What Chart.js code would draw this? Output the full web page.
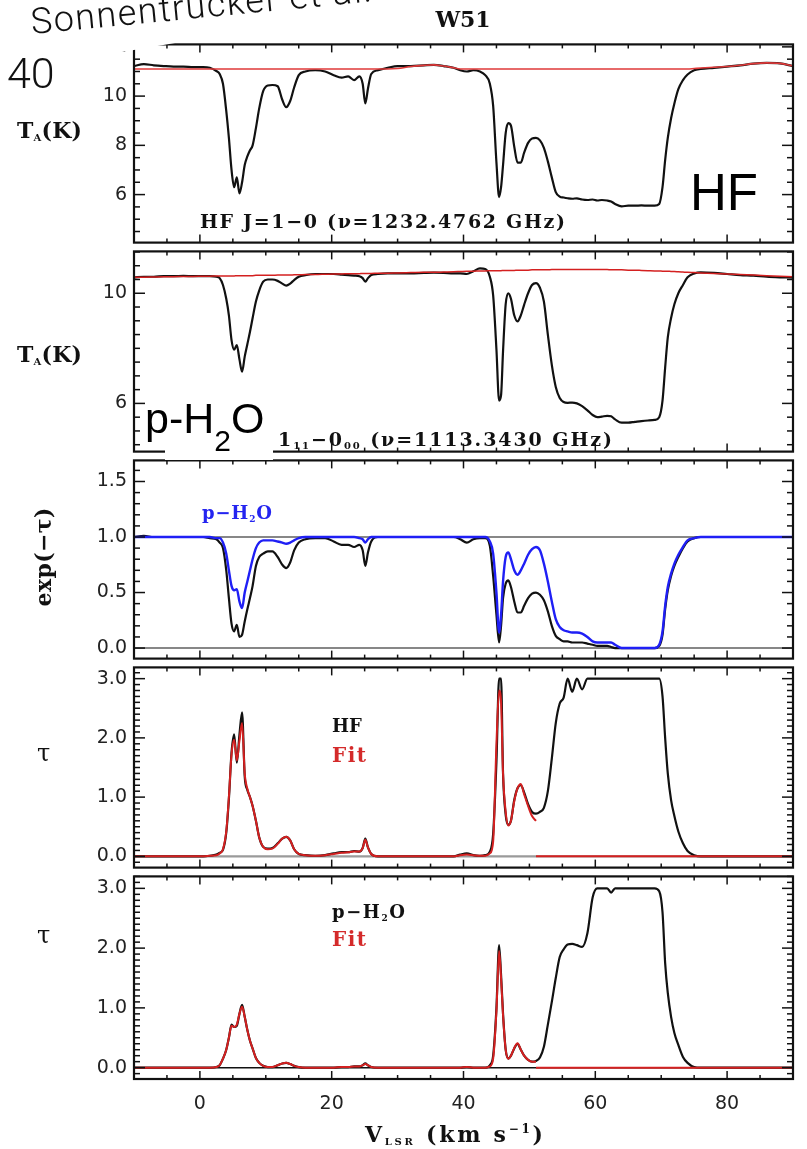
<!DOCTYPE html>
<html>
<head>
<meta charset="utf-8">
<script src="https://cdn.jsdelivr.net/npm/chart.js@4.4.1/dist/chart.umd.min.js"></script>
<style>
  html, body { margin: 0; padding: 0; background: #fff; }
  #page { position: relative; width: 807px; height: 1149px; overflow: hidden; background: #fff; }
  canvas { position: absolute; left: 0; }
  svg { position: absolute; left: 0; top: 0; }
  .lab { font-family: 'DejaVu Serif', serif; font-weight: bold; fill: #111; }
</style>
</head>
<body>
<div id="page">
  <canvas id="p1"></canvas>
  <canvas id="p2"></canvas>
  <canvas id="p3"></canvas>
  <canvas id="p4"></canvas>
  <canvas id="p5"></canvas>

  <svg width="807" height="1149" viewBox="0 0 807 1149">
    <!-- pasted note in the corner -->
    <polygon points="-10,74.5 300,21.8 300,-10 -10,-10" fill="#fff"/>
    <text x="32" y="34" transform="rotate(-5.5 32 34)" font-family="Roboto, 'Liberation Sans', sans-serif" font-weight="300" font-size="36" letter-spacing="1.5" fill="#111">Sonnentrucker et al.</text>
    <text x="7" y="88" font-family="Roboto, 'Liberation Sans', sans-serif" font-weight="300" font-size="43" fill="#111">40</text>

    <text class="lab" x="463" y="27" text-anchor="middle" font-size="22" textLength="55">W51</text>

    <!-- panel 1 -->
    <text class="lab" x="17" y="138" font-size="22" textLength="65">T<tspan font-size="10" dy="3">A</tspan><tspan dy="-3">(K)</tspan></text>
    <text class="lab" x="200" y="228" font-size="19" textLength="365">HF J=1−0 (ν=1232.4762 GHz)</text>
    <text x="690" y="210" font-family="'Liberation Sans', sans-serif" font-size="51" fill="#000">HF</text>

    <!-- panel 2 -->
    <text class="lab" x="17" y="362" font-size="22" textLength="65">T<tspan font-size="10" dy="3">A</tspan><tspan dy="-3">(K)</tspan></text>
    <text class="lab" x="278" y="446" font-size="19" textLength="334">1<tspan font-size="10" dy="3">11</tspan><tspan dy="-3">−0</tspan><tspan font-size="10" dy="3">00</tspan><tspan dy="-3">  (ν=1113.3430 GHz)</tspan></text>
    <rect x="165" y="399" width="108" height="61" fill="#fff"/>
    <text x="145" y="433" font-family="'Liberation Sans', sans-serif" font-size="43" fill="#000">p-H<tspan font-size="30" dy="18">2</tspan><tspan dy="-18">O</tspan></text>

    <!-- panel 3 -->
    <text class="lab" x="51" y="557" transform="rotate(-90 51 557)" text-anchor="middle" font-size="22" textLength="99">exp(−τ)</text>
    <text class="lab" x="202" y="519" font-size="18" textLength="70" style="fill:#2424f0">p−H<tspan font-size="9" dy="3">2</tspan><tspan dy="-3">O</tspan></text>

    <!-- panel 4 -->
    <text x="37" y="761" font-family="'DejaVu Serif', serif" font-size="24" fill="#111">τ</text>
    <text class="lab" x="332" y="732" font-size="18">HF</text>
    <text class="lab" x="332" y="762" font-size="20" textLength="34" style="fill:#d42a2a">Fit</text>

    <!-- panel 5 -->
    <text x="37" y="943" font-family="'DejaVu Serif', serif" font-size="24" fill="#111">τ</text>
    <text class="lab" x="332" y="918" font-size="18" textLength="73">p−H<tspan font-size="9" dy="3">2</tspan><tspan dy="-3">O</tspan></text>
    <text class="lab" x="332" y="946" font-size="20" textLength="34" style="fill:#d42a2a">Fit</text>

    <text class="lab" x="365" y="1142" font-size="22" textLength="178">V<tspan font-size="10" dy="3">LSR</tspan><tspan dy="-3"> (km s</tspan><tspan font-size="12" dy="-9">−1</tspan><tspan dy="9">)</tspan></text>
  </svg>
</div>

<script>
// LSR velocity grid (km/s), shared by every spectrum below
const vel = [
  -10, -8.5, -7, -5.5, -4, -2.5, -1, 0.5, 1.5, 2.5,
  3, 3.5, 4, 4.4, 4.8, 5.2, 5.6, 6, 6.4, 6.8,
  7.2, 7.6, 8, 8.5, 9, 9.6, 10.3, 11, 11.8, 12.5,
  13.1, 13.7, 14.3, 15, 16, 17.5, 19, 20.3, 21.5, 22.5,
  23.4, 24.2, 24.7, 25.1, 25.5, 26, 27, 28.5, 30, 32,
  34, 35.5, 37, 38.5, 39.5, 40.5, 41.5, 42.5, 43.3, 44,
  44.5, 45, 45.4, 45.7, 46, 46.4, 46.8, 47.2, 47.7, 48.2,
  48.7, 49.2, 49.8, 50.4, 51, 51.6, 52.2, 52.8, 53.4, 54,
  54.6, 55.2, 55.8, 56.5, 57.2, 58, 58.8, 59.6, 60.3, 61,
  61.8, 62.4, 63, 64, 65, 66, 67, 68, 69, 69.7,
  70.2, 70.6, 71, 71.5, 72, 72.6, 73.3, 74, 75, 76,
  78, 80, 82, 84, 86, 88, 90
];

// HF J=1-0 antenna temperature (K) and continuum baseline
const hfTa = [
  11.22, 11.3, 11.25, 11.22, 11.2, 11.2, 11.18, 11.18, 11.15, 11.02,
  10.9, 10.5, 9.4, 8.3, 7.0, 6.3, 6.7, 6.05, 6.5, 7.2,
  7.55, 7.8, 8.0, 8.7, 9.5, 10.2, 10.43, 10.45, 10.4, 9.85,
  9.55, 9.8, 10.35, 10.85, 11.0, 11.05, 11.0, 10.85, 10.75, 10.8,
  10.65, 10.8, 10.5, 9.7, 10.3, 10.9, 11.05, 11.15, 11.22, 11.22,
  11.25, 11.27, 11.22, 11.15, 11.05, 11.0, 11.05, 11.0, 10.85, 10.5,
  9.6, 7.3, 5.9, 6.3, 7.2, 8.5, 8.9, 8.8, 7.95, 7.3,
  7.3, 7.7, 8.1, 8.28, 8.3, 8.2, 7.9, 7.35, 6.7, 6.1,
  5.92, 5.88, 5.85, 5.83, 5.85, 5.8, 5.78, 5.8, 5.76, 5.78,
  5.76, 5.72, 5.62, 5.52, 5.55, 5.55, 5.56, 5.55, 5.55, 5.62,
  6.3, 7.4, 8.3, 9.1, 9.7, 10.28, 10.65, 10.88, 11.05, 11.1,
  11.15, 11.2, 11.25, 11.32, 11.35, 11.33, 11.22
];
const hfTaCont = [
  11.1, 11.1, 11.1, 11.1, 11.1, 11.1, 11.1, 11.1, 11.1, 11.1,
  11.1, 11.1, 11.1, 11.1, 11.1, 11.1, 11.1, 11.1, 11.1, 11.1,
  11.1, 11.1, 11.1, 11.1, 11.1, 11.1, 11.1, 11.1, 11.1, 11.1,
  11.1, 11.1, 11.1, 11.1, 11.1, 11.1, 11.1, 11.1, 11.1, 11.1,
  11.1, 11.1, 11.1, 11.1, 11.1, 11.1, 11.1, 11.1, 11.12, 11.2,
  11.25, 11.27, 11.22, 11.15, 11.1, 11.1, 11.1, 11.1, 11.1, 11.1,
  11.1, 11.1, 11.1, 11.1, 11.1, 11.1, 11.1, 11.1, 11.1, 11.1,
  11.1, 11.1, 11.1, 11.1, 11.1, 11.1, 11.1, 11.1, 11.1, 11.1,
  11.1, 11.1, 11.1, 11.1, 11.1, 11.1, 11.1, 11.1, 11.1, 11.1,
  11.1, 11.1, 11.1, 11.1, 11.1, 11.1, 11.1, 11.1, 11.1, 11.1,
  11.1, 11.1, 11.1, 11.1, 11.1, 11.1, 11.1, 11.1, 11.12, 11.14,
  11.17, 11.2, 11.25, 11.32, 11.35, 11.33, 11.22
];

// p-H2O 1_11-0_00 antenna temperature (K) and continuum baseline
const h2oTa = [
  10.58, 10.6, 10.6, 10.62, 10.62, 10.63, 10.62, 10.62, 10.62, 10.6,
  10.55, 10.3, 9.8, 9.2, 8.3, 7.95, 8.12, 7.6, 7.15, 7.7,
  8.15, 8.6, 9.1, 9.7, 10.1, 10.42, 10.5, 10.5, 10.45, 10.35,
  10.28, 10.35, 10.48, 10.6, 10.66, 10.7, 10.7, 10.7, 10.68, 10.66,
  10.64, 10.62, 10.55, 10.42, 10.55, 10.66, 10.7, 10.72, 10.72, 10.72,
  10.74, 10.75, 10.74, 10.72, 10.72, 10.7, 10.8, 10.9, 10.88, 10.6,
  9.92, 7.95, 6.1, 6.3, 7.9, 9.6, 10.0, 9.8, 9.2, 8.98,
  9.2, 9.58, 10.0, 10.3, 10.37, 10.2, 9.7, 8.5, 7.4, 6.6,
  6.2, 6.05, 6.02, 6.03, 6.0, 5.9, 5.75, 5.58, 5.5, 5.52,
  5.55, 5.53, 5.42, 5.3, 5.3, 5.33, 5.36, 5.38, 5.4, 5.5,
  6.1, 7.3, 8.4, 9.1, 9.6, 10.0, 10.3, 10.58, 10.72, 10.76,
  10.74, 10.7, 10.66, 10.64, 10.6, 10.58, 10.57
];
const h2oTaCont = [
  10.58, 10.58, 10.59, 10.6, 10.6, 10.61, 10.61, 10.62, 10.62, 10.63,
  10.63, 10.63, 10.63, 10.63, 10.63, 10.63, 10.64, 10.64, 10.64, 10.64,
  10.64, 10.64, 10.64, 10.65, 10.65, 10.65, 10.65, 10.65, 10.66, 10.66,
  10.66, 10.66, 10.67, 10.67, 10.68, 10.68, 10.69, 10.7, 10.7, 10.71,
  10.71, 10.71, 10.72, 10.72, 10.72, 10.72, 10.73, 10.73, 10.74, 10.75,
  10.76, 10.76, 10.77, 10.78, 10.79, 10.8, 10.8, 10.81, 10.81, 10.82,
  10.82, 10.82, 10.82, 10.82, 10.83, 10.83, 10.83, 10.83, 10.83, 10.84,
  10.84, 10.84, 10.84, 10.85, 10.85, 10.85, 10.85, 10.85, 10.86, 10.86,
  10.86, 10.86, 10.86, 10.86, 10.86, 10.86, 10.86, 10.86, 10.86, 10.86,
  10.86, 10.85, 10.85, 10.85, 10.84, 10.84, 10.83, 10.82, 10.81, 10.81,
  10.8, 10.8, 10.8, 10.79, 10.79, 10.78, 10.77, 10.76, 10.75, 10.74,
  10.72, 10.7, 10.68, 10.66, 10.64, 10.62, 10.6
];

// normalised spectra exp(-tau)
const expTauHF = [
  1.0, 1.01, 1.0, 1.0, 1.0, 1.0, 1.0, 1.0, 0.99, 0.98,
  0.95, 0.9, 0.7, 0.45, 0.22, 0.15, 0.21, 0.1, 0.12, 0.24,
  0.35, 0.45, 0.56, 0.74, 0.82, 0.85, 0.87, 0.87, 0.82, 0.75,
  0.72, 0.77, 0.88, 0.95, 0.98, 0.99, 0.99, 0.96, 0.93, 0.93,
  0.91, 0.93, 0.88, 0.74, 0.86, 0.96, 1.0, 1.0, 1.0, 1.0,
  1.0, 1.0, 1.0, 1.0, 0.98, 0.95, 0.98, 0.99, 0.99, 0.92,
  0.65, 0.3, 0.05, 0.2, 0.45, 0.58, 0.61, 0.55, 0.42, 0.32,
  0.32, 0.38, 0.45, 0.49, 0.5, 0.48, 0.43, 0.33, 0.2, 0.11,
  0.08, 0.06, 0.06, 0.05, 0.05, 0.05, 0.04, 0.03, 0.02, 0.02,
  0.02, 0.01, 0, 0, 0, 0, 0, 0, 0, 0.02,
  0.12, 0.35, 0.52, 0.65, 0.74, 0.82, 0.9, 0.96, 0.99, 1.0,
  1.0, 1.0, 1.0, 1.0, 1.0, 1.0, 1.0
];
const expTauH2O = [
  1.0, 1.0, 1.0, 1.0, 1.0, 1.0, 1.0, 1.0, 1.0, 0.99,
  0.99, 0.95, 0.85, 0.7, 0.56, 0.52, 0.53, 0.42, 0.36, 0.5,
  0.6, 0.7, 0.8, 0.9, 0.95, 0.97, 0.97, 0.97, 0.96, 0.95,
  0.94, 0.95, 0.97, 0.99, 1.0, 1.0, 1.0, 1.0, 1.0, 1.0,
  1.0, 0.99, 0.98, 0.95, 0.98, 1.0, 1.0, 1.0, 1.0, 1.0,
  1.0, 1.0, 1.0, 1.0, 1.0, 1.0, 1.0, 1.0, 1.0, 0.96,
  0.85, 0.5, 0.14, 0.3, 0.6, 0.82, 0.86, 0.8, 0.7, 0.66,
  0.7, 0.76, 0.84, 0.89, 0.91, 0.88, 0.76, 0.6, 0.42, 0.26,
  0.19, 0.16, 0.15, 0.14, 0.14, 0.13, 0.1, 0.06, 0.05, 0.05,
  0.05, 0.05, 0.03, 0, 0, 0, 0, 0, 0, 0.03,
  0.15, 0.38, 0.55, 0.67, 0.76, 0.84, 0.91, 0.97, 0.99, 1.0,
  1.0, 1.0, 1.0, 1.0, 1.0, 1.0, 1.0
];

// optical depth; fits only cover the foreground range (first 45 channels)
const tauHF = [
  0, 0, 0, 0, 0, 0, 0, 0, 0.01, 0.03,
  0.06, 0.11, 0.4, 0.97, 1.75, 2.06, 1.58, 2.05, 2.43, 1.35,
  1.12, 1.0, 0.85, 0.6, 0.32, 0.16, 0.13, 0.14, 0.22, 0.3,
  0.33, 0.27, 0.12, 0.04, 0.02, 0.01, 0.02, 0.05, 0.07, 0.07,
  0.09, 0.08, 0.14, 0.3, 0.15, 0.04, 0, 0, 0, 0,
  0, 0, 0, 0, 0.03, 0.05, 0.02, 0.01, 0.02, 0.08,
  0.38, 1.6, 3.0, 3.0, 1.4, 0.7, 0.53, 0.6, 0.95, 1.15,
  1.2, 1.08, 0.88, 0.75, 0.72, 0.75, 0.82, 1.1, 1.65, 2.25,
  2.58, 2.68, 3.0, 2.78, 3.0, 2.82, 3.0, 3.0, 3.0, 3.0,
  3.0, 3.0, 3.0, 3.0, 3.0, 3.0, 3.0, 3.0, 3.0, 3.0,
  2.7, 2.0, 1.4, 0.95, 0.68, 0.42, 0.22, 0.09, 0.02, 0,
  0, 0, 0, 0, 0, 0, 0
];
const tauHFFit = [
  0, 0, 0, 0, 0, 0, 0, 0, 0.01, 0.02,
  0.05, 0.12, 0.42, 1.0, 1.72, 1.97, 1.62, 1.95, 2.25, 1.4,
  1.14, 1.0, 0.85, 0.6, 0.32, 0.16, 0.12, 0.13, 0.21, 0.3,
  0.33, 0.27, 0.12, 0.04, 0.02, 0.01, 0.02, 0.04, 0.06, 0.07,
  0.08, 0.08, 0.14, 0.28, 0.15, 0.04, 0, 0, 0, 0,
  0, 0, 0, 0, 0.02, 0.03, 0.02, 0.01, 0.01, 0.05,
  0.25, 1.9, 2.8, 2.6, 1.4, 0.75, 0.52, 0.6, 0.93, 1.15,
  1.22, 1.05, 0.85, 0.68, 0.6
];
const tauH2O = [
  0, 0, 0, 0, 0, 0, 0, 0, 0, 0.01,
  0.04, 0.15, 0.3, 0.5, 0.72, 0.68, 0.7, 0.9, 1.05, 0.85,
  0.63, 0.45, 0.32, 0.16, 0.08, 0.03, 0.01, 0.01, 0.04, 0.07,
  0.08, 0.06, 0.03, 0.01, 0, 0, 0, 0, 0.01, 0.01,
  0.02, 0.02, 0.04, 0.07, 0.04, 0.01, 0, 0, 0, 0,
  0, 0, 0, 0, 0, 0.01, 0, 0, 0, 0.04,
  0.2, 1.0, 2.05, 1.55, 0.9, 0.3, 0.15, 0.2, 0.32, 0.4,
  0.3, 0.2, 0.13, 0.1, 0.11, 0.17, 0.35, 0.72, 1.1, 1.5,
  1.85, 1.98, 2.06, 2.07, 2.05, 2.02, 2.25, 2.85, 3.0, 3.0,
  3.0, 2.93, 3.0, 3.0, 3.0, 3.0, 3.0, 3.0, 3.0, 2.95,
  2.6, 1.75, 1.25, 0.85, 0.58, 0.38, 0.18, 0.08, 0.01, 0,
  0, 0, 0, 0, 0, 0, 0
];
const tauH2OFit = [
  0, 0, 0, 0, 0, 0, 0, 0, 0, 0.01,
  0.04, 0.15, 0.3, 0.5, 0.7, 0.68, 0.72, 0.9, 1.02, 0.85,
  0.63, 0.45, 0.32, 0.16, 0.08, 0.03, 0.01, 0.01, 0.04, 0.07,
  0.08, 0.06, 0.03, 0.01, 0, 0, 0, 0, 0.01, 0.01,
  0.02, 0.02, 0.04, 0.06, 0.04, 0.01, 0, 0, 0, 0,
  0, 0, 0, 0, 0, 0.01, 0, 0, 0, 0.02,
  0.15, 0.95, 1.95, 1.5, 0.88, 0.3, 0.15, 0.2, 0.33, 0.41,
  0.3, 0.2, 0.13, 0.1, 0.1
];

// fit set to zero past the fitted range
const fitZeroVel = [51, 90];
const fitZero = [0, 0];
const fullSpan = [-10, 90];

// axis tick labels
const xTickLabels = [0, 20, 40, 60, 80];
const taTicksHF = [6, 8, 10, 12];
const taTicksH2O = [6, 10];
const expTauTicks = [0, 0.5, 1.0, 1.5];
const tauTicks = [0, 1, 2, 3];

const RED = '#d42020';
const BLUE = '#1f1ff5';
const INK = '#111';

const panels = [
  { id: 'p1', top: 40, bottom: 247, min: 4.05, max: 12.1, major: taTicksHF, minorStep: 0.5, digits: 0,
    series: [
      { values: hfTaCont, color: '#e03a3a', width: 1.6 },
      { values: hfTa, color: INK, width: 2.2 }
    ] },
  { id: 'p2', top: 247, bottom: 456, min: 4.25, max: 11.52, major: taTicksH2O, minorStep: 0.5, digits: 0,
    series: [
      { values: h2oTaCont, color: RED, width: 1.5 },
      { values: h2oTa, color: INK, width: 2.2 }
    ] },
  { id: 'p3', top: 456, bottom: 663, min: -0.095, max: 1.69, major: expTauTicks, minorStep: 0.1, digits: 1,
    series: [
      { values: expTauH2O, color: BLUE, width: 2.4 },
      { values: expTauHF, color: INK, width: 2.2 },
      { vel: fullSpan, values: [1, 1], color: INK, width: 1.1 },
      { vel: fullSpan, values: [0, 0], color: INK, width: 1.1 }
    ] },
  { id: 'p4', top: 663, bottom: 872, min: -0.19, max: 3.19, major: tauTicks, minorStep: 0.1, digits: 1,
    series: [
      { values: tauHFFit, color: RED, width: 2 },
      { vel: fitZeroVel, values: fitZero, color: RED, width: 2 },
      { values: tauHF, color: INK, width: 2.2 },
      { vel: fullSpan, values: [0, 0], color: '#9a9a9a', width: 2.2 }
    ] },
  { id: 'p5', top: 872, bottom: 1079, min: -0.19, max: 3.2, major: tauTicks, minorStep: 0.1, digits: 1,
    series: [
      { values: tauH2OFit, color: RED, width: 2 },
      { vel: fitZeroVel, values: fitZero, color: RED, width: 2 },
      { values: tauH2O, color: INK, width: 2.2 },
      { vel: fullSpan, values: [0, 0], color: INK, width: 1.5 }
    ] }
];

const tickFont = { family: "'DejaVu Sans', sans-serif", size: 19 };

function pts(xs, ys) {
  return ys.map((y, i) => ({ x: xs[i], y }));
}

// box around each panel with inward ticks on all four sides
function makeFrame(p) {
  return {
    id: 'frame',
    afterDraw(chart) {
      const { ctx, chartArea: a, scales: { x, y } } = chart;
      const seg = (x1, y1, x2, y2) => { ctx.beginPath(); ctx.moveTo(x1, y1); ctx.lineTo(x2, y2); ctx.stroke(); };
      ctx.save();
      ctx.strokeStyle = INK;
      ctx.lineWidth = 1.5;
      for (let k = -2; k <= 18; k++) {
        const v = k * 5;
        const px = x.getPixelForValue(v);
        const len = v % 20 === 0 ? 8 : 4;
        seg(px, a.top, px, a.top + len);
        seg(px, a.bottom, px, a.bottom - len);
      }
      const k0 = Math.ceil(p.min / p.minorStep - 1e-6);
      const k1 = Math.floor(p.max / p.minorStep + 1e-6);
      for (let k = k0; k <= k1; k++) {
        const v = k * p.minorStep;
        const major = p.major.some(m => Math.abs(m - v) < 1e-6);
        const py = y.getPixelForValue(v);
        const len = major ? 11 : 6;
        seg(a.left, py, a.left + len, py);
        seg(a.right, py, a.right - len, py);
      }
      ctx.lineWidth = 2.2;
      ctx.strokeRect(a.left, a.top, a.right - a.left, a.bottom - a.top);
      ctx.restore();
    }
  };
}

panels.forEach((p, i) => {
  const last = i === panels.length - 1;
  const padTop = 14, padBottom = last ? 0 : 14, xH = last ? 44 : 0;
  const cv = document.getElementById(p.id);
  cv.width = 807;
  cv.height = padTop + (p.bottom - p.top) + padBottom + xH;
  cv.style.top = (p.top - padTop) + 'px';

  new Chart(cv, {
    type: 'line',
    data: {
      datasets: p.series.map(s => ({
        data: pts(s.vel || vel, s.values),
        borderColor: s.color,
        borderWidth: s.width,
        pointRadius: 0,
        cubicInterpolationMode: 'monotone',
        fill: false
      }))
    },
    options: {
      responsive: false,
      animation: false,
      devicePixelRatio: 1,
      events: [],
      layout: { padding: { top: padTop, bottom: padBottom, left: 0, right: 14 } },
      plugins: { legend: { display: false }, tooltip: { enabled: false } },
      scales: {
        x: {
          type: 'linear', min: -10, max: 90, display: last,
          grid: { display: false, drawTicks: false },
          border: { display: false },
          ticks: { font: tickFont, color: '#222', padding: 14, autoSkip: false, maxRotation: 0 },
          afterBuildTicks: s => { s.ticks = xTickLabels.map(v => ({ value: v })); },
          afterFit: s => { s.height = xH; }
        },
        y: {
          type: 'linear', min: p.min, max: p.max,
          grid: { display: false, drawTicks: false },
          border: { display: false },
          ticks: { font: tickFont, color: '#222', padding: 7, autoSkip: false,
                   callback: v => Number(v).toFixed(p.digits) },
          afterBuildTicks: s => { s.ticks = p.major.map(v => ({ value: v })); },
          afterFit: s => { s.width = 134; }
        }
      }
    },
    plugins: [makeFrame(p)]
  });
});
</script>
</body>
</html>
